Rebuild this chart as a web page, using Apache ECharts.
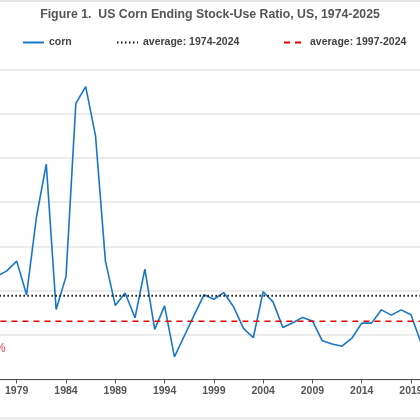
<!DOCTYPE html>
<html>
<head>
<meta charset="utf-8">
<script src="https://cdn.jsdelivr.net/npm/echarts@6/dist/echarts.min.js"></script>
<style>
html,body{margin:0;padding:0;background:#fff;}
#chart{width:420px;height:420px;}
</style>
</head>
<body>
<div id="chart"></div>
<script>
var years = [1974,1975,1976,1977,1978,1979,1980,1981,1982,1983,1984,1985,1986,1987,1988,1989,1990,1991,1992,1993,1994,1995,1996,1997,1998,1999,2000,2001,2002,2003,2004,2005,2006,2007,2008,2009,2010,2011,2012,2013,2014,2015,2016,2017,2018,2019,2020,2021,2022,2023,2024,2025];
var corn = [8.3,10.7,19.6,23.3,24.5,26.7,19.1,36.6,48.6,15.8,23.2,62.3,66.1,54.9,26.7,16.7,19.5,13.9,24.9,11.3,16.6,5.1,9.8,14.5,19.1,18.1,19.6,16.4,11.5,9.4,19.8,17.5,11.7,12.8,14.0,13.2,8.7,8.0,7.5,9.3,12.7,12.7,15.7,14.5,15.7,14.6,8.3,9.1,9.9,12.1,10.0,13.5];
var avgAllYears = [1974, 2025];
var avgAll = [18.9, 18.9];
var avgRecentYears = [1974, 2025];
var avgRecent = [13.1, 13.1];
var xTickYears = [1979,1984,1989,1994,1999,2004,2009,2014,2019];
var visibleYearMin = 1977.306;
var visibleYearMax = 2019.911;

function pairs(xs, ys){ return xs.map(function(x,i){ return [x, ys[i]]; }); }

var chart = echarts.init(document.getElementById('chart'), null, {renderer:'canvas'});
var font = 'Arial, "Liberation Sans", Helvetica, sans-serif';
var legendText = {fontFamily: font, fontSize: 10.5, fontWeight: 'bold', color: '#444444'};
var option = {
  animation: false,
  backgroundColor: '#ffffff',
  title: {
    text: 'Figure 1.  US Corn Ending Stock-Use Ratio, US, 1974-2025',
    left: 'center', top: 4,
    textStyle: {fontFamily: font, fontSize: 12.3, fontWeight: 'bold', color: '#555555'}
  },
  legend: [
    {data: ['corn'], left: 22, top: 37, padding: 0, itemWidth: 21, itemHeight: 12, itemStyle: {opacity: 0}, textStyle: legendText},
    {data: ['average: 1974-2024'], left: 116, top: 37, padding: 0, itemWidth: 21, itemHeight: 12, itemStyle: {opacity: 0}, textStyle: legendText},
    {data: ['average: 1997-2024'], left: 283, top: 37, padding: 0, itemWidth: 21, itemHeight: 12, itemStyle: {opacity: 0}, textStyle: legendText}
  ],
  grid: {left: 0, right: 0, top: 69.3, bottom: 40.6, containLabel: false, outerBoundsMode: 'none'},
  xAxis: {
    type: 'value', min: visibleYearMin, max: visibleYearMax,
    axisLine: {show: true, lineStyle: {color: '#555555', width: 1}},
    axisTick: {show: true, length: 4, lineStyle: {color: '#555555'}, customValues: xTickYears},
    axisLabel: {fontFamily: font, fontSize: 10.5, fontWeight: 'bold', color: '#555555', margin: 6, customValues: xTickYears,
      formatter: function(v){ return String(Math.round(v)); }},
    splitLine: {show: false}
  },
  yAxis: {
    type: 'value', min: 0, max: 70, interval: 10,
    axisLine: {show: false}, axisTick: {show: false},
    axisLabel: {show: false},
    splitLine: {show: true, lineStyle: {color: '#e6e6e6', width: 1.5}}
  },
  series: [
    {name: 'corn', type: 'line', data: pairs(years, corn), showSymbol: false, symbol: 'none', clip: true,
     lineStyle: {color: '#1876c8', width: 1.6}, itemStyle: {color: '#1876c8'}},
    {name: 'average: 1974-2024', type: 'line', data: pairs(avgAllYears, avgAll), showSymbol: false, symbol: 'none', clip: true,
     lineStyle: {color: '#111111', width: 2, type: [1.5, 2.5]}, itemStyle: {color: '#111111'}},
    {name: 'average: 1997-2024', type: 'line', data: pairs(avgRecentYears, avgRecent), showSymbol: false, symbol: 'none', clip: true,
     lineStyle: {color: '#e60000', width: 1.5, type: [6, 5]}, itemStyle: {color: '#e60000'}}
  ],
  graphic: [
    {type: 'line', shape: {x1: 0, y1: 1, x2: 420, y2: 1}, style: {stroke: '#e6e6e6', lineWidth: 2}, silent: true},
    {type: 'line', shape: {x1: 0, y1: 418.5, x2: 420, y2: 418.5}, style: {stroke: '#e6e6e6', lineWidth: 2}, silent: true},
    {type: 'text', left: -5, top: 343, style: {text: '%', fill: '#f23a5c', font: '12px Arial, "Liberation Sans", sans-serif'}, silent: true}
  ]
};
chart.setOption(option);
</script>
</body>
</html>
